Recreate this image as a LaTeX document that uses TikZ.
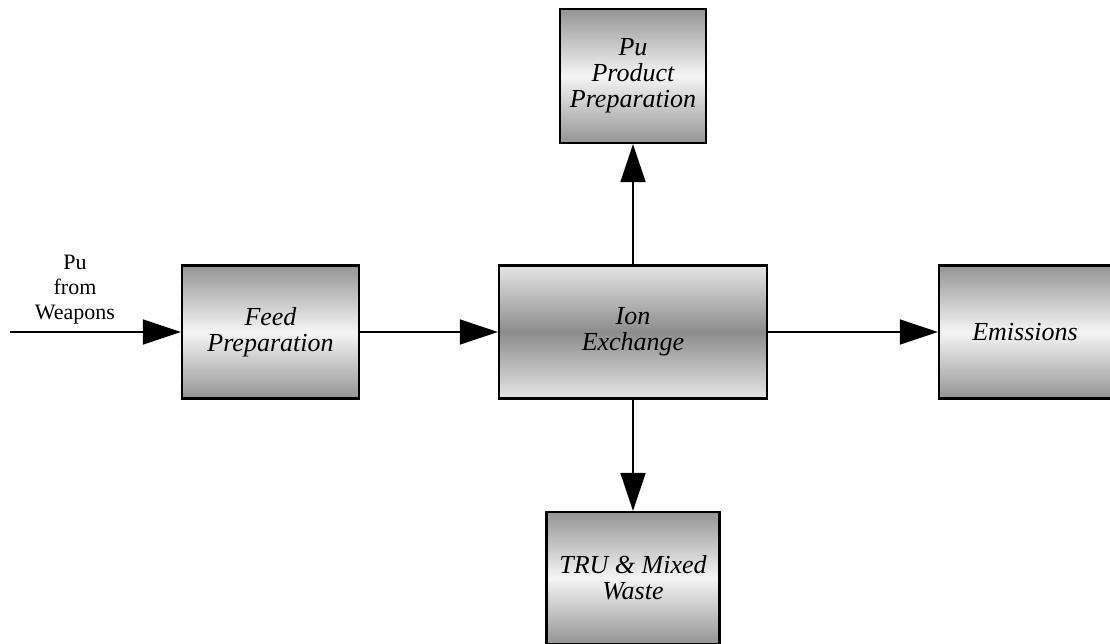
\documentclass[tikz,border=0pt]{standalone}
\usepackage{fontspec}
\setmainfont{Liberation Serif}
\usetikzlibrary{positioning}
\usetikzlibrary{arrows.meta}

\begin{document}
\begin{tikzpicture}[x=1pt, y=-1pt,
    box/.style={draw, line width=2.2pt, align=center, inner sep=0pt,
      font=\fontsize{26}{26}\selectfont\itshape,
      top color=black!42, bottom color=black!42, middle color=black!4},
    darkbox/.style={box, top color=black!10, bottom color=black!10, middle color=black!45},
    flow/.style={-{Triangle[length=38pt, width=25pt]}, line width=1.6pt}
  ]
  \useasboundingbox (0,0) rectangle (1110,644);

  \node (feed) [box, minimum width=177pt, minimum height=133pt] at (270.5,332) {Feed\\Preparation};
  \node (ion) [darkbox, minimum width=268pt, minimum height=133pt] at (633,332) {Ion\\Exchange};
  \node (emis) [box, minimum width=172pt, minimum height=133pt] at (1025,332) {Emissions};
  \node (pu) [box, minimum width=146pt, minimum height=134pt] at (633,76) {Pu\\Product\\Preparation};
  \node (tru) [box, minimum width=173pt, minimum height=132pt] at (633,578) {TRU \& Mixed\\Waste};

  \node (src) [align=center, font=\fontsize{22}{25}\selectfont] at (75,290) {Pu\\from\\Weapons};
  \coordinate (in) at (10,332);

  \draw[flow] (in) -- (feed);
  \draw[flow] (feed) -- (ion);
  \draw[flow] (ion) -- (emis);
  \draw[flow] (ion) -- (pu);
  \draw[flow] (ion) -- (tru);
\end{tikzpicture}
\end{document}
